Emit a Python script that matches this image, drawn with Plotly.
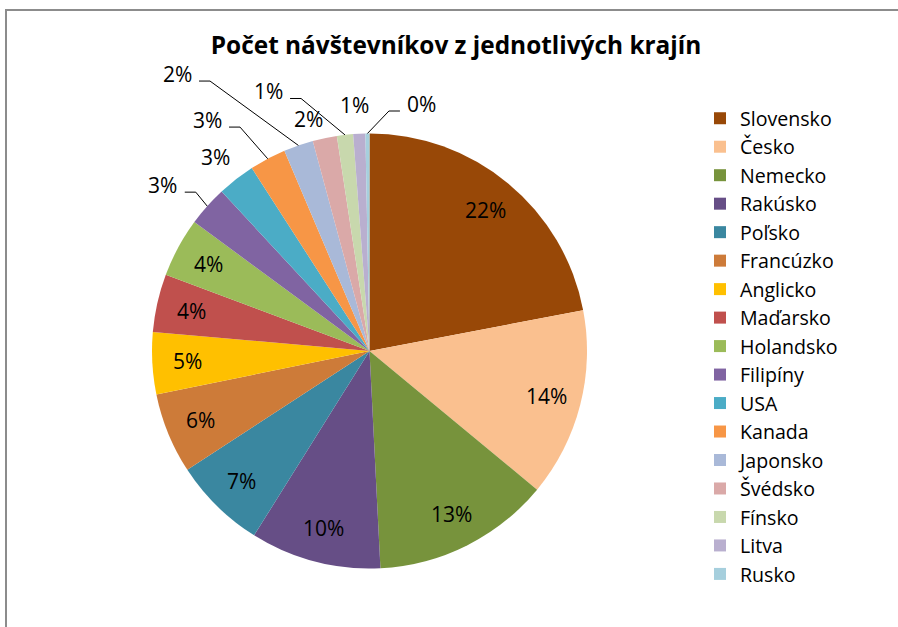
import math
import plotly.graph_objects as go

# ---------------- data ----------------
countries = ["Slovensko", "Česko", "Nemecko", "Rakúsko", "Poľsko", "Francúzko",
             "Anglicko", "Maďarsko", "Holandsko", "Filipíny", "USA", "Kanada",
             "Japonsko", "Švédsko", "Fínsko", "Litva", "Rusko"]
shares = [22.0, 14.0, 13.2, 9.7, 6.9, 6.0, 4.6, 4.3, 4.4, 3.0, 2.8, 2.7,
          2.2, 1.8, 1.2, 0.9, 0.3]
title_text = "Počet návštevníkov z jednotlivých krajín"

# ---------------- style ----------------
colors = ["#984807", "#FAC08F", "#77933C", "#664E86", "#3A87A0", "#CD7B39",
          "#FFC000", "#C0504D", "#9BBB59", "#8064A2", "#4BACC6", "#F79646",
          "#A9B9D8", "#DAA9A8", "#C8D8AD", "#B9AFCF", "#A6CFDD"]
FONT = "Open Sans"
W, H = 898, 627
CX, CY, R = 369.5, 351.0, 217.5     # pie centre / radius in pixels
IN_R = 0.84                          # radial position of inside labels
# outside labels: offset of label centre from slice edge point, leader yes/no
outside = {
    "Filipíny": (-44.5, -21, True),
    "USA": (-21, -22, False),
    "Kanada": (-60.7, -38.7, True),
    "Japonsko": (-121.4, -71.4, True),
    "Švédsko": (-16.7, -19.3, False),
    "Fínsko": (-76.9, -43.4, True),
    "Litva": (-4.3, -28.7, False),
    "Rusko": (54.5, -29.5, True),
}


def px(x):
    return x / W


def py(y):
    return 1 - y / H


fig = go.Figure(go.Pie(
    labels=countries, values=shares, sort=False, direction="clockwise",
    rotation=0, textinfo="none", hoverinfo="label+percent",
    marker=dict(colors=colors, line=dict(width=0)),
    domain=dict(x=[px(CX - R), px(CX + R)], y=[py(CY + R), py(CY - R)]),
))

total = sum(shares)
annotations = []
shapes = []
cum = 0.0
for name, v in zip(countries, shares):
    mid = (cum + v / 2) / total * 2 * math.pi
    cum += v
    sx, sy = math.sin(mid), -math.cos(mid)
    pct = f"{round(v / total * 100)}%"
    if name in outside:
        dx, dy, leader = outside[name]
        ax, ay = CX + R * sx, CY + R * sy
        lx, ly = ax + dx, ay + dy
        if leader:
            side = 1 if dx < 0 else -1
            ex = lx + side * 22
            ey = ly + 7
            bx = ex + side * 11
            shapes.append(dict(
                type="path", xref="paper", yref="paper",
                path=f"M {px(ax)} {py(ay)} L {px(bx)} {py(ey)} L {px(ex)} {py(ey)}",
                line=dict(color="black", width=1)))
    else:
        lx, ly = CX + IN_R * R * sx, CY + IN_R * R * sy
    annotations.append(dict(
        x=px(lx), y=py(ly), xref="paper", yref="paper", text=pct,
        showarrow=False, xanchor="center", yanchor="middle",
        font=dict(family=FONT, size=21, color="black")))

# chart frame (its right and bottom edges lie outside the captured area)
frame = dict(color="#8C8C8C", width=2)
shapes.append(dict(type="line", xref="paper", yref="paper",
                   x0=px(5), x1=px(W), y0=py(10), y1=py(10), line=frame))
shapes.append(dict(type="line", xref="paper", yref="paper",
                   x0=px(6), x1=px(6), y0=py(9), y1=py(H), line=frame))

fig.update_layout(
    width=W, height=H,
    margin=dict(l=0, r=0, t=0, b=0),
    paper_bgcolor="white", plot_bgcolor="white",
    title=dict(text=f"<b>{title_text}</b>", x=px(456), xanchor="center",
               y=py(45), yanchor="middle", yref="container",
               font=dict(family=FONT, size=24.4, color="black")),
    legend=dict(x=px(700), y=py(99), xanchor="left", yanchor="top",
                font=dict(family=FONT, size=19.6, color="black"),
                bgcolor="rgba(0,0,0,0)", traceorder="normal"),
    annotations=annotations, shapes=shapes,
    font=dict(family=FONT, color="black"),
)

fig.write_html("out.html", config={"displayModeBar": False},
               post_script="document.body.style.margin='0';"
                           "document.body.style.padding='0';")
